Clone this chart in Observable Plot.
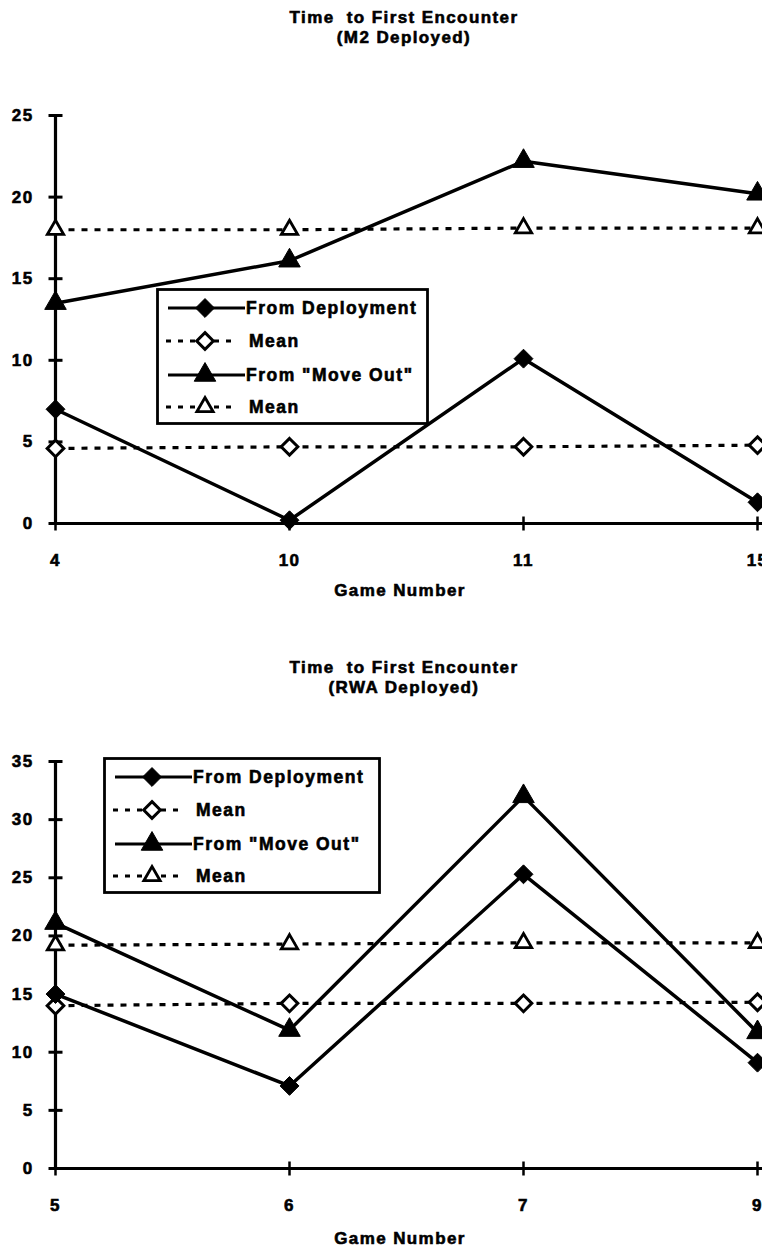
<!DOCTYPE html>
<html><head><meta charset="utf-8">
<script src="https://cdn.jsdelivr.net/npm/d3@7"></script>
<script src="https://cdn.jsdelivr.net/npm/@observablehq/plot@0.6"></script>
<style>
body{margin:0;background:#fff;}
#page{position:relative;width:762px;height:1250px;overflow:hidden;background:#fff;font-family:"Liberation Sans",Arial,sans-serif;font-weight:bold;color:#000;}
.title{position:absolute;left:0;width:762px;box-sizing:border-box;padding-left:46px;text-align:center;font-size:17px;line-height:20px;letter-spacing:1.4px;-webkit-text-stroke:0.6px #000;white-space:pre;}
.xlabel{position:absolute;left:0;width:762px;box-sizing:border-box;padding-left:38px;text-align:center;font-size:17px;line-height:20px;letter-spacing:1.4px;-webkit-text-stroke:0.6px #000;white-space:pre;}
.chart{position:absolute;left:0;}
.legend{position:absolute;}
.chart text, .legend text{stroke:#000;stroke-width:0.6px;}
</style></head>
<body><div id="page"></div>
<script>
// ---- Data: chart 1 (M2 Deployed) ----
const title1 = ["Time  to First Encounter", "(M2 Deployed)"];
const games1 = ["4", "10", "11", "15"];
const fromDeploy1 = [7.0, 0.2, 10.1, 1.3];
const meanDeploy1 = [4.6, 4.7, 4.7, 4.8];
const fromMoveOut1 = [13.5, 16.1, 22.2, 20.2];
const meanMoveOut1 = [18.0, 18.0, 18.1, 18.1];
const yTicks1 = [0, 5, 10, 15, 20, 25];

// ---- Data: chart 2 (RWA Deployed) ----
const title2 = ["Time  to First Encounter", "(RWA Deployed)"];
const games2 = ["5", "6", "7", "9"];
const fromDeploy2 = [15.0, 7.1, 25.3, 9.1];
const meanDeploy2 = [14.0, 14.2, 14.2, 14.3];
const fromMoveOut2 = [21.1, 11.9, 32.0, 11.7];
const meanMoveOut2 = [19.2, 19.3, 19.4, 19.4];
const yTicks2 = [0, 5, 10, 15, 20, 25, 30, 35];

const xLabel = "Game Number";
const legendLabels = ["From Deployment", "Mean", "From \"Move Out\"", "Mean"];

// ---- Symbols & styles ----
const hTick = {draw(ctx, size) { const r = Math.sqrt(size / Math.PI); ctx.moveTo(-r, 0); ctx.lineTo(r, 0); }};
const vTick = {draw(ctx, size) { const r = Math.sqrt(size / Math.PI); ctx.moveTo(0, -r); ctx.lineTo(0, r); }};
const series = [
  {key: "dep", dashed: false, symbol: "diamond2", r: 8.5, fill: "black", sw: 1},
  {key: "depMean", dashed: true, symbol: "diamond2", r: 7.5, fill: "white", sw: 3},
  {key: "move", dashed: false, symbol: "triangle", r: 8, fill: "black", sw: 1},
  {key: "moveMean", dashed: true, symbol: "triangle2", r: 7.8, fill: "white", sw: 2.8}
];
const d3sym = {diamond2: d3.symbolDiamond2, triangle: d3.symbolTriangle, triangle2: d3.symbolTriangle2};
const DASH = "6,7";

const page = document.getElementById("page");

function addText(cls, lines, top) {
  const div = document.createElement("div");
  div.className = cls;
  div.style.top = top + "px";
  div.textContent = lines.join("\n");
  page.appendChild(div);
}

function makeChart({games, dep, depMean, move, moveMean, yTicks, top, marginTop, plotH}) {
  const rows = games.map((g, i) => ({game: g, dep: dep[i], depMean: depMean[i], move: move[i], moveMean: moveMean[i]}));
  const yMax = yTicks[yTicks.length - 1];
  const lineMarks = series.map(s => Plot.line(rows, {
    x: "game", y: s.key, stroke: "black", strokeWidth: s.dashed ? 3.2 : 3.5,
    strokeDasharray: s.dashed ? DASH : null, strokeLinecap: s.dashed ? "butt" : "round"
  }));
  const lines = [lineMarks[1], lineMarks[3], lineMarks[0], lineMarks[2]];
  const dots = series.map(s => Plot.dot(rows, {
    x: "game", y: s.key, symbol: s.symbol, r: s.r, fill: s.fill, stroke: "black", strokeWidth: s.sw
  }));
  const svg = Plot.plot({
    width: 762, height: marginTop + plotH + 45,
    marginTop, marginBottom: 45, marginLeft: 55, marginRight: 5,
    style: {fontFamily: "'Liberation Sans', Arial, sans-serif", fontSize: "17px", fontWeight: "bold", letterSpacing: "1.4px", background: "transparent", overflow: "visible", color: "black"},
    x: {type: "point", domain: games, padding: 0, tickSize: 0, tickPadding: 30, label: null},
    y: {domain: [0, yMax], ticks: yTicks, tickSize: 0, tickPadding: 22, label: null},
    marks: [
      Plot.ruleY([0], {stroke: "black", strokeWidth: 3.2, insetRight: -10}),
      Plot.ruleX([games[0]], {stroke: "black", strokeWidth: 3.2}),
      Plot.dot(yTicks, {x: () => games[0], y: d => d, symbol: hTick, r: 7, stroke: "black", strokeWidth: 3}),
      Plot.dot(games, {x: d => d, y: () => 0, symbol: vTick, r: 7, stroke: "black", strokeWidth: 2.5}),
      ...lines,
      dots[1], dots[3], dots[0], dots[2]
    ]
  });
  svg.classList.add("chart");
  svg.style.position = "absolute";
  svg.style.top = top + "px";
  svg.style.left = "0px";
  page.appendChild(svg);
}

function makeLegend(left, top, w, h) {
  const svg = d3.select(page).append("svg").attr("class", "legend")
    .style("left", left + "px").style("top", top + "px")
    .attr("width", w).attr("height", h)
    .style("font-family", "'Liberation Sans', Arial, sans-serif")
    .style("font-weight", "bold").style("font-size", "17.5px").style("letter-spacing", "1.5px");
  svg.append("rect").attr("x", 1.5).attr("y", 1.5).attr("width", w - 3).attr("height", h - 3)
    .attr("fill", "white").attr("stroke", "black").attr("stroke-width", 2.8);
  const rowY = [20, 53, 87, 119];
  series.forEach((s, i) => {
    const g = svg.append("g").attr("transform", `translate(0,${rowY[i]})`);
    if (s.dashed) {
      g.append("line").attr("x1", 10).attr("x2", 76).attr("y1", 0).attr("y2", 0)
        .attr("stroke", "black").attr("stroke-width", 3.2).attr("stroke-dasharray", "5,7");
    } else {
      g.append("line").attr("x1", 12).attr("x2", 89).attr("y1", 0).attr("y2", 0)
        .attr("stroke", "black").attr("stroke-width", 3.2);
    }
    g.append("path").attr("transform", "translate(49,0)")
      .attr("d", d3.symbol(d3sym[s.symbol], Math.PI * s.r * s.r)())
      .attr("fill", s.fill).attr("stroke", "black").attr("stroke-width", s.sw);
    g.append("text").attr("x", s.dashed ? 93 : 90).attr("y", 0).attr("dy", "0.35em").text(legendLabels[i]);
  });
}

// Chart 1
addText("title", title1, 8);
makeChart({games: games1, dep: fromDeploy1, depMean: meanDeploy1, move: fromMoveOut1, moveMean: meanMoveOut1,
  yTicks: yTicks1, top: 60, marginTop: 55, plotH: 408});
addText("xlabel", [xLabel], 581);
makeLegend(156, 288, 273, 137);

// Chart 2
addText("title", title2, 658);
makeChart({games: games2, dep: fromDeploy2, depMean: meanDeploy2, move: fromMoveOut2, moveMean: meanMoveOut2,
  yTicks: yTicks2, top: 700, marginTop: 61, plotH: 407});
addText("xlabel", [xLabel], 1229);
makeLegend(103, 757, 278, 137);
</script>
</body></html>
